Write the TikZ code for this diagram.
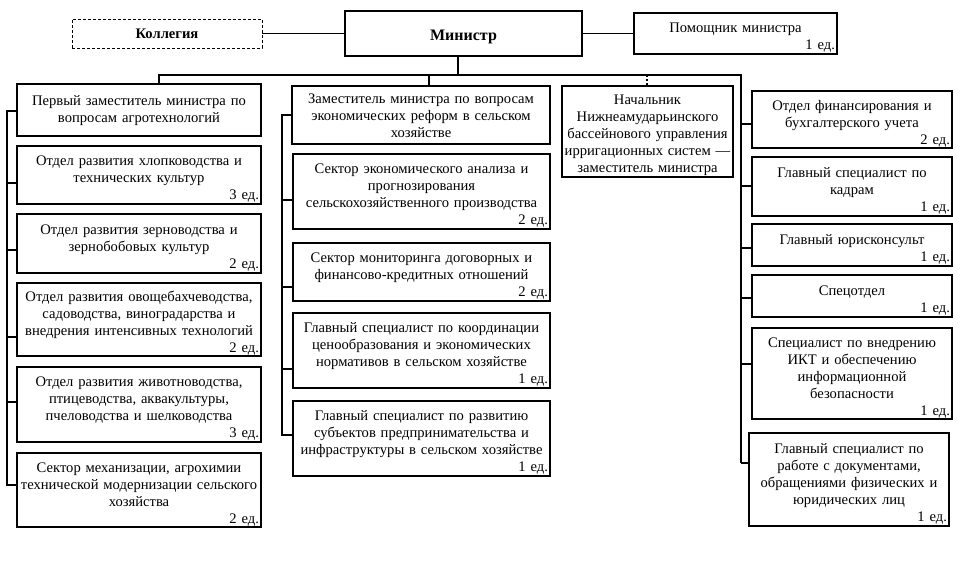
\documentclass[tikz,border=0pt]{standalone}
\usepackage{fontspec}
\setmainfont{Liberation Serif}
\newcommand\fs{\fontsize{14.6}{17}\selectfont}
\newcommand\topht{18pt}
\tikzset{
  box/.style={draw, line width=1.1pt, rectangle, align=center, inner xsep=2pt, inner ysep=0pt, font=\fs},
  conn/.style={line width=1.1pt},
}
\newcommand\bx[7][]{%
  \pgfmathsetmacro\bw{#5-#3}\pgfmathsetmacro\bh{#6-#4}%
  \pgfmathsetmacro\tw{#5-#3-4}%
  \pgfmathsetmacro\bcx{(#3+#5)/2}\pgfmathsetmacro\bcy{(#4+#6)/2}%
  \node[box, minimum width=\bw pt, minimum height=\bh pt, text width=\tw pt, #1] (#2) at (\bcx,\bcy) {\rule{0pt}{\topht}#7};}
\newcommand\ed[1]{\\\hspace*{\fill}#1 ед.}
\begin{document}
\begin{tikzpicture}[x=1pt,y=-1pt]
\useasboundingbox (0,0) rectangle (961,565);
% top row
\node[box, line width=0.8pt, dash pattern=on 3pt off 2pt, minimum width=190pt, minimum height=29pt] (kol) at (167,33.5) {\textbf{Коллегия}};
\bx{min}{345}{11}{582}{56}{\textbf{\fontsize{16}{17}\selectfont Министр}}
\bx{pom}{634}{13}{837}{54}{Помощник министра\ed{1}}
% deputies without staff counts
\renewcommand\topht{12pt}
\bx{fz}{17}{84}{261}{136}{Первый заместитель министра по\\вопросам агротехнологий}
\bx{zm}{292}{86}{550}{144}{Заместитель министра по вопросам\\экономических реформ в сельском\\хозяйстве}
\renewcommand\topht{18pt}
% left column
\bx{l2}{17}{146}{261}{204}{Отдел развития хлопководства и\\технических культур\ed{3}}
\bx{l3}{17}{214}{261}{273}{Отдел развития зерноводства и\\зернобобовых культур\ed{2}}
\bx{l4}{17}{283}{261}{356}{Отдел развития овощебахчеводства,\\садоводства, виноградарства и\\внедрения интенсивных технологий\ed{2}}
\bx{l5}{17}{367}{261}{442}{Отдел развития животноводства,\\птицеводства, аквакультуры,\\пчеловодства и шелководства\ed{3}}
\bx{l6}{17}{453}{261}{527}{Сектор механизации, агрохимии\\технической модернизации сельского\\хозяйства\ed{2}}
% middle column
\bx{m2}{293}{154}{550}{229}{Сектор экономического анализа и\\прогнозирования\\сельскохозяйственного производства\ed{2}}
\bx{m3}{293}{243}{550}{301}{Сектор мониторинга договорных и\\финансово-кредитных отношений\ed{2}}
\bx{m4}{293}{313}{550}{388}{Главный специалист по координации\\ценообразования и экономических\\нормативов в сельском хозяйстве\ed{1}}
\bx{m5}{293}{401}{550}{476}{Главный специалист по развитию\\субъектов предпринимательства и\\инфраструктуры в сельском хозяйстве\ed{1}}
% irrigation
\bx{nach}{562}{86}{733}{177}{Начальник\\Нижнеамударьинского\\бассейнового управления\\ирригационных систем —\\заместитель министра}
% right column
\bx{r1}{752}{91}{952}{148}{Отдел финансирования и\\бухгалтерского учета\ed{2}}
\bx{r2}{752}{157}{952}{216}{Главный специалист по\\кадрам\ed{1}}
\bx{r3}{752}{224}{952}{266}{Главный юрисконсульт\ed{1}}
\bx{r4}{752}{275}{952}{317}{Спецотдел\ed{1}}
\bx{r5}{752}{328}{952}{419}{Специалист по внедрению\\ИКТ и обеспечению\\информационной\\безопасности\ed{1}}
\bx{r6}{749}{433}{949}{526}{Главный специалист по\\работе с документами,\\обращениями физических и\\юридических лиц\ed{1}}
% coordinates
\coordinate (top) at (458,75);
\coordinate (b1) at (159,75);
\coordinate (b2) at (429,75);
\coordinate (b3) at (647,75);
\coordinate (bR) at (741,75);
\coordinate (la) at (7,111);  \coordinate (lb) at (7,183);  \coordinate (lc) at (7,250);
\coordinate (ld) at (7,337);  \coordinate (le) at (7,402);  \coordinate (lf) at (7,485);
\coordinate (ma) at (282,115); \coordinate (mb) at (282,200); \coordinate (mc) at (282,287);
\coordinate (md) at (282,369); \coordinate (me) at (282,435);
\coordinate (ra) at (741,124); \coordinate (rb) at (741,186); \coordinate (rc) at (741,248);
\coordinate (rd) at (741,298); \coordinate (re) at (741,364); \coordinate (rf) at (741,463);
% connectors
\draw[conn] (kol) -- (min);
\draw[conn] (min) -- (pom);
\draw[conn] (min.south -| top) -- (top);
\draw[conn] (fz.north -| b1) -- (b1) -- (bR) -- (rf);
\draw[conn] (b2) -- (zm.north -| b2);
\draw[conn, dash pattern=on 2pt off 2pt] (b3) -- (nach.north -| b3);
% left bus
\draw[conn] (la -| fz.west) -- (la) -- (lf) -- (lf -| l6.west);
\foreach \c/\n in {lb/l2, lc/l3, ld/l4, le/l5} \draw[conn] (\c) -- (\c -| \n.west);
% middle bus
\draw[conn] (ma -| zm.west) -- (ma) -- (me) -- (me -| m5.west);
\foreach \c/\n in {mb/m2, mc/m3, md/m4} \draw[conn] (\c) -- (\c -| \n.west);
% right bus
\foreach \c/\n in {ra/r1, rb/r2, rc/r3, rd/r4, re/r5, rf/r6} \draw[conn] (\c) -- (\c -| \n.west);
\end{tikzpicture}
\end{document}
